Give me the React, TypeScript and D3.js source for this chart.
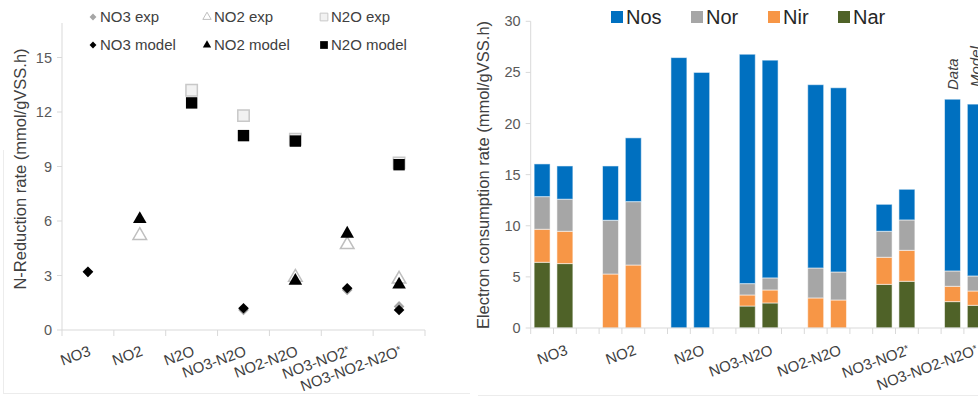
import React, { useEffect, useRef } from 'react';
import * as d3 from 'd3';

// ---- left chart: N-reduction rates ----
const categories = ['NO3', 'NO2', 'N2O', 'NO3-N2O', 'NO2-N2O', 'NO3-NO2*', 'NO3-NO2-N2O*'];
const no3Exp = [3.2, null, null, 1.1, null, 2.2, 1.3];
const no3Model = [3.2, null, null, 1.2, null, 2.3, 1.1];
const no2Exp = [null, 5.2, null, null, 2.9, 4.7, 2.8];
const no2Model = [null, 6.1, null, null, 2.7, 5.3, 2.5];
const n2oExp = [null, null, 13.2, 11.8, 10.5, null, 9.2];
const n2oModel = [null, null, 12.5, 10.7, 10.4, null, 9.1];
const leftTicks = [0, 3, 6, 9, 12, 15];

// ---- right chart: electron consumption (data / model per group) ----
const enzymes = ['Nos', 'Nor', 'Nir', 'Nar'];
const narData = [6.43, 0, 0, 2.15, 0, 4.27, 2.58];
const narModel = [6.3, 0, 0, 2.45, 0, 4.57, 2.22];
const nirData = [3.23, 5.28, 0, 1.08, 2.94, 2.65, 1.5];
const nirModel = [3.16, 6.16, 0, 1.27, 2.74, 3.03, 1.4];
const norData = [3.19, 5.26, 0, 1.11, 2.93, 2.54, 1.5];
const norModel = [3.14, 6.2, 0, 1.18, 2.74, 2.97, 1.47];
const nosData = [3.2, 5.31, 26.45, 22.44, 17.93, 2.64, 16.8];
const nosModel = [3.25, 6.24, 25.0, 21.3, 18.02, 3.0, 16.81];
const rightTicks = [0, 5, 10, 15, 20, 25, 30];

const colors: Record<string, string> = {
  Nos: '#0070C0',
  Nor: '#A6A6A6',
  Nir: '#F79646',
  Nar: '#4F6228'
};

const axisColor = '#d9d9d9';
const labelColor = '#595959';
const textColor = '#404040';
const font = 'Liberation Sans, Arial, sans-serif';

const W = 978;
const H = 398;

function catLabel(g: any, text: string, x: number, y: number) {
  const t = g.append('text')
    .attr('transform', `translate(${x},${y}) rotate(-20)`)
    .attr('text-anchor', 'end')
    .attr('dy', '0.72em')
    .attr('font-size', '15px')
    .attr('fill', textColor);
  const star = text.endsWith('*');
  t.append('tspan').text(star ? text.slice(0, -1) : text);
  if (star) {
    t.append('tspan').attr('dy', '-0.35em').attr('font-size', '10px').text('*');
  }
}

const App: React.FC = () => {
  const svgRef = useRef<SVGSVGElement>(null);

  useEffect(() => {
    if (!svgRef.current) return;
    const svg = d3.select(svgRef.current);
    svg.selectAll('*').remove();
    svg.attr('font-family', font);

    // ================= LEFT =================
    const L = svg.append('g');
    const lx0 = 62;
    const lx1 = 425;
    const ly = d3.scaleLinear().domain([0, 15]).range([330, 57.5]);
    const lyTop = 16.9;
    const lx = d3.scaleBand().domain(categories).range([lx0, lx1]);

    // frame (faint)
    L.append('line').attr('x1', 3).attr('x2', 470).attr('y1', 393.5).attr('y2', 393.5)
      .attr('stroke', '#ececec');
    L.append('line').attr('x1', 3.5).attr('x2', 3.5).attr('y1', 150).attr('y2', 393.5)
      .attr('stroke', '#ececec');

    // axes
    L.append('line').attr('x1', lx0).attr('x2', lx0).attr('y1', ly(0)).attr('y2', ly(lyTop))
      .attr('stroke', axisColor);
    L.append('line').attr('x1', lx0).attr('x2', lx1).attr('y1', ly(0)).attr('y2', ly(0))
      .attr('stroke', axisColor);
    leftTicks.forEach(v => {
      L.append('line').attr('x1', lx0 - 5).attr('x2', lx0).attr('y1', ly(v)).attr('y2', ly(v))
        .attr('stroke', axisColor);
      L.append('text').attr('x', lx0 - 10).attr('y', ly(v)).attr('dy', '0.35em')
        .attr('text-anchor', 'end').attr('font-size', '14.5px').attr('fill', labelColor)
        .text(v);
    });
    d3.range(categories.length + 1).forEach(i => {
      const x = lx0 + i * lx.step();
      L.append('line').attr('x1', x).attr('x2', x).attr('y1', ly(0)).attr('y2', ly(0) + 6)
        .attr('stroke', axisColor);
    });
    categories.forEach(c => {
      catLabel(L, c, (lx(c) || 0) + lx.bandwidth() / 2, ly(0) + 15);
    });

    L.append('text')
      .attr('transform', `translate(20,169) rotate(-90)`)
      .attr('text-anchor', 'middle').attr('dy', '0.35em')
      .attr('font-size', '16.5px').attr('fill', textColor)
      .text('N-Reduction rate (mmol/gVSS.h)');

    const diamond = d3.symbol().type(d3.symbolDiamond2).size(72);
    const tri = d3.symbol().type(d3.symbolTriangle).size(80);
    const square = d3.symbol().type(d3.symbolSquare).size(130);

    const styles: Record<string, any> = {
      no3Exp: { sym: diamond, fill: '#a6a6a6', stroke: 'none' },
      no2Exp: { sym: tri, fill: '#ffffff', stroke: '#bfbfbf' },
      n2oExp: { sym: square, fill: '#f2f2f2', stroke: '#c8c8c8' },
      no3Model: { sym: diamond, fill: '#000000', stroke: 'none' },
      no2Model: { sym: tri, fill: '#000000', stroke: 'none' },
      n2oModel: { sym: square, fill: '#000000', stroke: 'none' }
    };
    const series: [string, (number | null)[]][] = [
      ['no3Exp', no3Exp], ['no2Exp', no2Exp], ['n2oExp', n2oExp],
      ['no3Model', no3Model], ['no2Model', no2Model], ['n2oModel', n2oModel]
    ];
    series.forEach(([key, vals]) => {
      const s = styles[key];
      vals.forEach((v, i) => {
        if (v === null) return;
        const cx = (lx(categories[i]) || 0) + lx.bandwidth() / 2;
        L.append('path')
          .attr('d', s.sym())
          .attr('transform', `translate(${cx},${ly(v)})`)
          .attr('fill', s.fill)
          .attr('stroke', s.stroke)
          .attr('stroke-width', 1.5);
      });
    });

    // legend
    const legendItems = [
      { key: 'no3Exp', label: 'NO3 exp', col: 0, row: 0 },
      { key: 'no2Exp', label: 'NO2 exp', col: 1, row: 0 },
      { key: 'n2oExp', label: 'N2O exp', col: 2, row: 0 },
      { key: 'no3Model', label: 'NO3 model', col: 0, row: 1 },
      { key: 'no2Model', label: 'NO2 model', col: 1, row: 1 },
      { key: 'n2oModel', label: 'N2O model', col: 2, row: 1 }
    ];
    const legX = [93, 207, 324];
    const legY = [17, 45];
    const smallSym: Record<string, any> = {
      no3Exp: d3.symbol().type(d3.symbolDiamond2).size(30),
      no3Model: d3.symbol().type(d3.symbolDiamond2).size(30),
      no2Exp: d3.symbol().type(d3.symbolTriangle).size(30),
      no2Model: d3.symbol().type(d3.symbolTriangle).size(30),
      n2oExp: d3.symbol().type(d3.symbolSquare).size(60),
      n2oModel: d3.symbol().type(d3.symbolSquare).size(60)
    };
    legendItems.forEach(it => {
      const s = styles[it.key];
      const x = legX[it.col];
      const y = legY[it.row];
      L.append('path').attr('d', smallSym[it.key]())
        .attr('transform', `translate(${x},${y})`)
        .attr('fill', s.fill).attr('stroke', s.stroke).attr('stroke-width', 1);
      L.append('text').attr('x', x + 7).attr('y', y).attr('dy', '0.35em')
        .attr('font-size', '15px').attr('fill', textColor).text(it.label);
    });

    // ================= RIGHT =================
    const R = svg.append('g');
    const rx0 = 530.7;
    const slotW = 22.8;
    const nSlots = categories.length * 3;
    const ry = d3.scaleLinear().domain([0, 30]).range([328, 21.3]);
    const slots = d3.scaleBand<number>()
      .domain(d3.range(nSlots))
      .range([rx0, rx0 + nSlots * slotW])
      .paddingInner(0.3)
      .paddingOuter(0.15);

    R.append('line').attr('x1', 478).attr('x2', W).attr('y1', 395.5).attr('y2', 395.5)
      .attr('stroke', '#ececec');

    R.append('line').attr('x1', rx0).attr('x2', rx0).attr('y1', ry(0)).attr('y2', ry(30))
      .attr('stroke', axisColor);
    rightTicks.forEach(v => {
      R.append('line').attr('x1', rx0 - 5).attr('x2', rx0).attr('y1', ry(v)).attr('y2', ry(v))
        .attr('stroke', axisColor);
      R.append('text').attr('x', rx0 - 10).attr('y', ry(v)).attr('dy', '0.35em')
        .attr('text-anchor', 'end').attr('font-size', '14.5px').attr('fill', labelColor)
        .text(v);
    });

    const rows: any[] = [];
    categories.forEach((c, i) => {
      rows.push({ slot: i * 3, Nos: nosData[i], Nor: norData[i], Nir: nirData[i], Nar: narData[i] });
      rows.push({ slot: i * 3 + 1, Nos: nosModel[i], Nor: norModel[i], Nir: nirModel[i], Nar: narModel[i] });
    });
    const stack = d3.stack<any>().keys(['Nar', 'Nir', 'Nor', 'Nos']);
    const layers = stack(rows);
    layers.forEach(layer => {
      layer.forEach(d => {
        if (d[1] - d[0] <= 0) return;
        R.append('rect')
          .attr('x', slots(d.data.slot) || 0)
          .attr('width', slots.bandwidth())
          .attr('y', ry(d[1]))
          .attr('height', ry(d[0]) - ry(d[1]))
          .attr('fill', colors[layer.key])
          .attr('stroke', '#ffffff')
          .attr('stroke-opacity', 0.55)
          .attr('stroke-width', 1);
      });
    });

    R.append('line').attr('x1', rx0).attr('x2', rx0 + nSlots * slotW).attr('y1', ry(0)).attr('y2', ry(0))
      .attr('stroke', axisColor);
    d3.range(nSlots + 1).forEach(i => {
      const x = rx0 + i * slots.step();
      R.append('line').attr('x1', x).attr('x2', x).attr('y1', ry(0)).attr('y2', ry(0) + 6)
        .attr('stroke', axisColor);
    });
    categories.forEach((c, i) => {
      const cx = rx0 + (i * 3 + 1.5) * slots.step();
      catLabel(R, c, cx, ry(0) + 16);
    });

    // Data / Model annotation over last group
    const lastG = categories.length - 1;
    [['Data', lastG * 3, 90], ['Model', lastG * 3 + 1, 87]].forEach(([txt, s, yb]: any) => {
      const cx = (slots(s) || 0) + slots.bandwidth() / 2;
      R.append('text')
        .attr('transform', `translate(${cx},${yb}) rotate(-90)`)
        .attr('text-anchor', 'start').attr('dy', '0.35em')
        .attr('font-size', '15px').attr('font-style', 'italic').attr('fill', textColor)
        .text(txt);
    });

    R.append('text')
      .attr('transform', `translate(483,175) rotate(-90)`)
      .attr('text-anchor', 'middle').attr('dy', '0.35em')
      .attr('font-size', '16.5px').attr('fill', textColor)
      .text('Electron consumption rate (mmol/gVSS.h)');

    const rLegX = [611, 691, 768, 838];
    enzymes.forEach((e, i) => {
      R.append('rect').attr('x', rLegX[i]).attr('y', 11).attr('width', 12).attr('height', 12)
        .attr('fill', colors[e]);
      R.append('text').attr('x', rLegX[i] + 15).attr('y', 17).attr('dy', '0.35em')
        .attr('font-size', '20px').attr('fill', '#262626').text(e);
    });
  }, []);

  return (
    <svg
      ref={svgRef}
      width={W}
      height={H}
      style={{ position: 'absolute', left: 0, top: 0, background: '#fff' }}
    />
  );
};

export default App;
